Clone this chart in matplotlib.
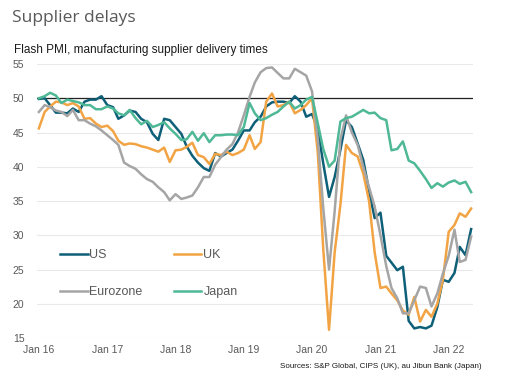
import numpy as np
import pandas as pd
import matplotlib
matplotlib.use('Agg')
import matplotlib.pyplot as plt
import matplotlib.dates as mdates

plt.rcParams['font.family'] = ['Liberation Sans', 'DejaVu Sans']

months = pd.date_range('2016-01-01', periods=77, freq='MS')

us = [49.9, 50.0, 49.0, 47.9, 47.9, 47.8, 48.5, 48.0, 49.5, 49.8, 49.8, 50.3,
      49.0, 48.7, 47.0, 47.5, 48.2, 48.0, 47.0, 46.5, 44.8, 43.9, 47.0, 46.8,
      45.8, 44.8, 43.0, 41.6, 40.6, 39.8, 39.4, 42.0, 41.5, 42.0, 42.5, 43.8,
      45.3, 45.3, 46.5, 47.3, 48.8, 49.4, 49.5, 49.5, 49.3, 50.3, 49.5, 47.3,
      47.7, 45.5, 40.5, 35.6, 38.5, 42.5, 46.8, 45.8, 43.4, 41.0, 36.5, 32.5,
      33.3, 27.0, 26.0, 24.9, 25.4, 17.5, 16.4, 16.6, 16.4, 16.8, 19.5, 23.5,
      23.2, 24.5, 28.3, 27.1, 30.9]

uk = [45.6, 48.0, 48.8, 49.5, 49.4, 49.0, 49.3, 48.8, 47.0, 47.1, 46.3, 45.8,
      46.0, 45.2, 43.8, 43.2, 43.4, 43.3, 43.0, 42.8, 42.5, 42.2, 42.8, 40.7,
      42.4, 42.5, 42.9, 43.5, 41.7, 41.4, 40.4, 41.9, 41.7, 42.2, 41.7, 42.0,
      42.5, 44.6, 42.6, 43.6, 49.5, 50.7, 48.8, 49.0, 49.5, 47.8, 48.3, 49.0,
      50.0, 42.0, 28.0, 16.2, 27.5, 34.5, 43.2, 42.0, 41.5, 39.0, 35.0, 27.5,
      22.3, 22.5, 21.5, 20.5, 19.0, 18.4, 21.0, 17.4, 19.1, 18.1, 20.0, 23.5,
      30.5, 31.5, 33.2, 32.7, 33.9]

eurozone = [48.0, 49.0, 48.7, 48.2, 48.0, 47.4, 48.3, 46.8, 46.8, 46.3, 45.9, 45.3,
            44.6, 43.9, 43.2, 40.6, 40.1, 39.7, 38.9, 38.2, 37.8, 37.0, 36.3, 35.1,
            36.0, 35.3, 35.5, 35.8, 37.0, 38.5, 38.5, 40.3, 41.4, 42.5, 43.3, 45.0,
            47.5, 50.2, 52.3, 53.8, 54.4, 54.5, 53.7, 52.9, 52.9, 54.3, 53.8, 53.3,
            51.0, 44.0, 34.0, 25.0, 33.5, 44.0, 47.5, 45.0, 43.2, 40.0, 37.0, 34.2,
            30.0, 25.5, 22.3, 20.8, 18.6, 18.6, 20.5, 22.5, 22.3, 19.6, 21.5, 24.4,
            27.0, 30.8, 26.1, 26.4, 29.8]

japan = [50.0, 50.3, 50.8, 50.4, 49.3, 49.8, 49.6, 49.4, 49.0, 49.0, 48.4, 48.4,
         48.8, 48.5, 47.8, 47.5, 48.3, 47.1, 46.2, 46.7, 45.8, 46.1, 46.5, 45.6,
         44.8, 43.9, 44.0, 45.1, 43.8, 44.9, 43.6, 44.6, 44.6, 44.7, 44.7, 44.6,
         45.8, 49.3, 47.8, 46.8, 47.1, 47.6, 48.0, 48.8, 49.5, 48.5, 49.0, 49.8,
         50.2, 46.3, 42.6, 40.0, 40.9, 46.6, 47.1, 47.3, 47.8, 48.3, 47.8, 47.9,
         47.1, 46.8, 42.4, 42.6, 43.7, 40.9, 40.5, 39.4, 38.2, 36.9, 37.6, 37.1,
         37.7, 38.0, 37.5, 37.8, 36.3]

series = [('US', us, '#0e5f78'), ('UK', uk, '#f2a444'),
          ('Eurozone', eurozone, '#a5a5a5'), ('Japan', japan, '#4fb896')]
y_ticks = [15, 20, 25, 30, 35, 40, 45, 50, 55]
x_ticks = pd.date_range('2016-01-01', '2022-01-01', freq='YS')

fig = plt.figure(figsize=(5.1, 3.9), dpi=100)
ax = fig.add_axes([37 / 510, 1 - 338 / 390, 436 / 510, 274 / 390])

for yv in y_ticks:
    ax.axhline(yv, color='#e9e9e9', lw=0.8, zorder=0)
ax.axhline(50, color='#222222', lw=0.9, zorder=1)

lines = {}
for name, vals, col in series:
    lines[name], = ax.plot(months, vals, color=col, lw=1.8, label=name, zorder=3)

ax.set_ylim(15, 55)
ax.set_xlim(months[0] - pd.Timedelta(days=10), months[-1] + pd.Timedelta(days=10))
ax.set_yticks(y_ticks)
ax.set_xticks(x_ticks)
ax.xaxis.set_major_formatter(mdates.DateFormatter('Jan %y'))
ax.tick_params(axis='both', length=0, colors='#595959', labelsize=7.5)
ax.tick_params(axis='y', pad=9)
ax.tick_params(axis='x', pad=5)
for s in ax.spines.values():
    s.set_visible(False)

# legend fills column-wise, so order as US, Eurozone | UK, Japan
order = ['US', 'Eurozone', 'UK', 'Japan']
leg = ax.legend([lines[n] for n in order], order, ncol=2, loc='upper left',
                bbox_to_anchor=(0.053, 0.323), frameon=False, fontsize=9,
                handlelength=2.2, handletextpad=0.15, columnspacing=2.5,
                labelspacing=2.0, borderpad=0, borderaxespad=0)
for t in leg.get_texts():
    t.set_color('#595959')

fig.text(12 / 510, 1 - 18 / 390, 'Supplier delays', fontsize=12.5, color='#595959',
         family=['Open Sans', 'DejaVu Sans'], va='center', ha='left')
fig.text(14 / 510, 1 - 50 / 390, 'Flash PMI, manufacturing supplier delivery times',
         fontsize=8.5, color='#1a1a1a', va='center', ha='left')
fig.text(482 / 510, 1 - 366 / 390, 'Sources: S&P Global, CIPS (UK), au Jibun Bank (Japan)',
         fontsize=5.8, color='#1a1a1a', va='center', ha='right')

fig.savefig('out.png', dpi=100)
